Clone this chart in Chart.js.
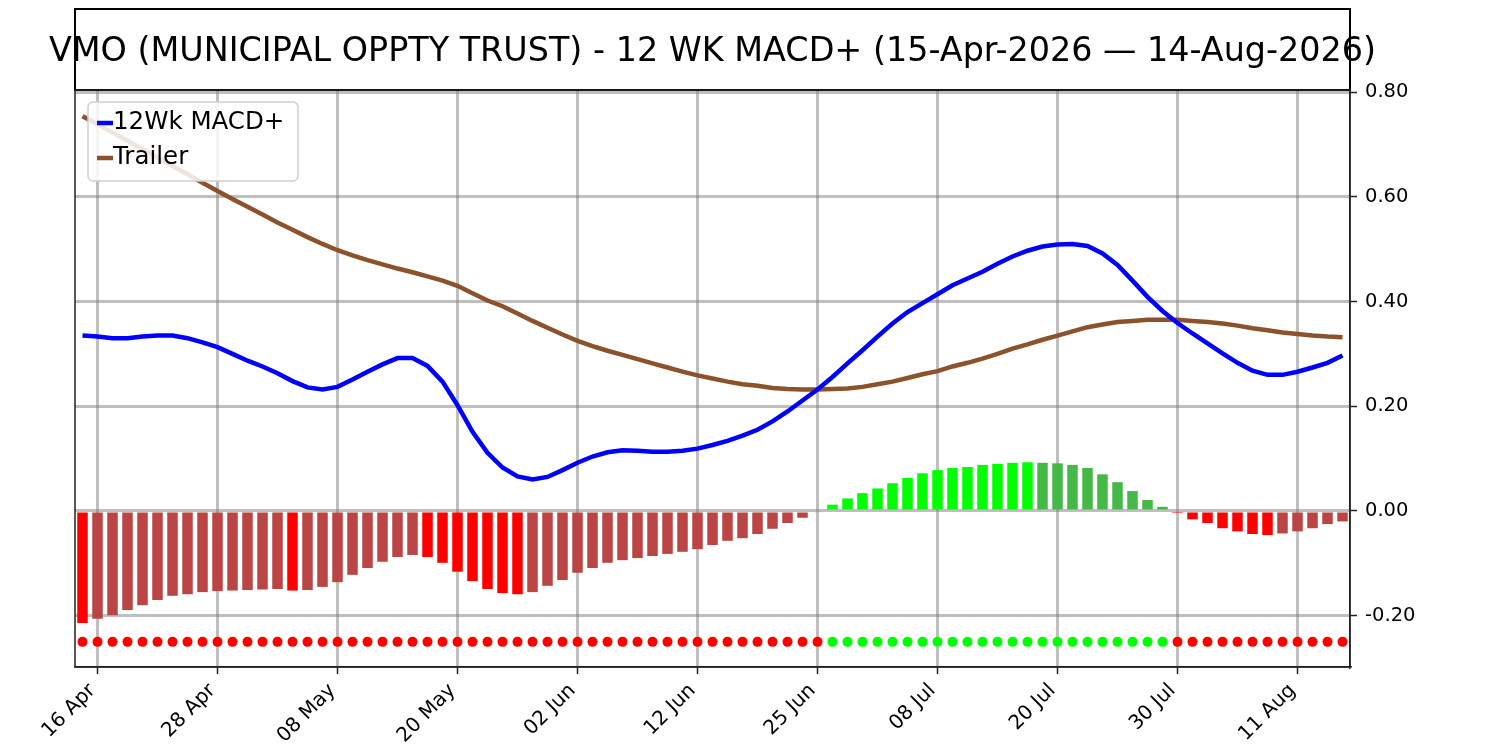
<!DOCTYPE html>
<html>
<head>
<meta charset="utf-8">
<title>VMO 12 WK MACD+</title>
<script src="https://cdn.jsdelivr.net/npm/chart.js@4.4.1/dist/chart.umd.min.js"></script>
<style>
    body { margin: 0; background: #fff; }
    canvas { display: block; }
</style>
</head>
<body>
<canvas id="macdChart" width="1500" height="750"></canvas>
<script>
// Trading days shown on the x axis
const dates = [
    '15 Apr', '16 Apr', '17 Apr', '20 Apr', '21 Apr', '22 Apr', '23 Apr', '24 Apr', '27 Apr', '28 Apr', '29 Apr', '30 Apr',
    '01 May', '04 May', '05 May', '06 May', '07 May', '08 May', '11 May', '12 May', '13 May', '14 May', '15 May', '18 May',
    '19 May', '20 May', '21 May', '22 May', '26 May', '27 May', '28 May', '29 May',
    '01 Jun', '02 Jun', '03 Jun', '04 Jun', '05 Jun', '08 Jun', '09 Jun', '10 Jun', '11 Jun', '12 Jun', '15 Jun', '16 Jun',
    '17 Jun', '18 Jun', '22 Jun', '23 Jun', '24 Jun', '25 Jun', '26 Jun', '29 Jun', '30 Jun',
    '01 Jul', '02 Jul', '06 Jul', '07 Jul', '08 Jul', '09 Jul', '10 Jul', '13 Jul', '14 Jul', '15 Jul', '16 Jul', '17 Jul',
    '20 Jul', '21 Jul', '22 Jul', '23 Jul', '24 Jul', '27 Jul', '28 Jul', '29 Jul', '30 Jul', '31 Jul',
    '03 Aug', '04 Aug', '05 Aug', '06 Aug', '07 Aug', '10 Aug', '11 Aug', '12 Aug', '13 Aug', '14 Aug'
];

const macdPlus = [
    0.335, 0.333, 0.330, 0.330, 0.333, 0.335, 0.335, 0.330, 0.322, 0.313, 0.300, 0.287,
    0.276, 0.263, 0.248, 0.236, 0.232, 0.237, 0.251, 0.266, 0.280, 0.292, 0.292, 0.277,
    0.247, 0.202, 0.151, 0.111, 0.083, 0.066, 0.060, 0.065,
    0.078, 0.092, 0.104, 0.112, 0.116, 0.115, 0.113, 0.113, 0.115, 0.119, 0.126, 0.134,
    0.144, 0.155, 0.171, 0.190, 0.211, 0.232, 0.256, 0.282, 0.307,
    0.333, 0.358, 0.380, 0.397, 0.414, 0.431, 0.444, 0.457, 0.472, 0.486, 0.497, 0.505,
    0.509, 0.510, 0.506, 0.492, 0.470, 0.440, 0.409, 0.382, 0.359, 0.339,
    0.320, 0.301, 0.283, 0.268, 0.260, 0.260, 0.266, 0.274, 0.283, 0.297
];

const trailer = [
    0.754, 0.739, 0.723, 0.707, 0.691, 0.675, 0.659, 0.643, 0.627, 0.611, 0.596, 0.581,
    0.566, 0.551, 0.537, 0.523, 0.510, 0.498, 0.488, 0.479, 0.471, 0.463, 0.456, 0.448,
    0.440, 0.430, 0.416, 0.402, 0.391, 0.377, 0.363, 0.350,
    0.337, 0.325, 0.315, 0.306, 0.298, 0.290, 0.282, 0.274, 0.266, 0.259, 0.253, 0.247,
    0.242, 0.239, 0.235, 0.233, 0.232, 0.232, 0.233, 0.234, 0.237,
    0.242, 0.247, 0.254, 0.261, 0.267, 0.276, 0.283, 0.291, 0.300, 0.310, 0.318, 0.327,
    0.335, 0.343, 0.351, 0.356, 0.361, 0.363, 0.365, 0.365, 0.365, 0.363,
    0.361, 0.358, 0.354, 0.349, 0.345, 0.341, 0.338, 0.335, 0.333, 0.332
];

const histogram = [
    -0.214, -0.206, -0.199, -0.189, -0.180, -0.170, -0.162, -0.159, -0.155, -0.153, -0.152, -0.151,
    -0.150, -0.149, -0.152, -0.151, -0.145, -0.136, -0.122, -0.109, -0.097, -0.088, -0.084, -0.088,
    -0.099, -0.116, -0.134, -0.149, -0.157, -0.159, -0.155, -0.143,
    -0.132, -0.118, -0.109, -0.099, -0.094, -0.090, -0.086, -0.082, -0.078, -0.073, -0.065, -0.057,
    -0.052, -0.044, -0.034, -0.023, -0.013, -0.003, 0.012, 0.024, 0.034,
    0.043, 0.053, 0.063, 0.072, 0.078, 0.082, 0.084, 0.088, 0.090, 0.092, 0.093, 0.092,
    0.091, 0.088, 0.082, 0.070, 0.055, 0.038, 0.021, 0.008, -0.004, -0.016,
    -0.023, -0.033, -0.039, -0.044, -0.046, -0.043, -0.039, -0.033, -0.025, -0.020
];

const xTickLabels = ['16 Apr', '28 Apr', '08 May', '20 May', '02 Jun', '12 Jun', '25 Jun', '08 Jul', '20 Jul', '30 Jul', '11 Aug'];
const yTicks = [-0.2, 0.0, 0.2, 0.4, 0.6, 0.8];
const signalLevel = -0.25;

const titleText = 'VMO (MUNICIPAL OPPTY TRUST) - 12 WK MACD+ (15-Apr-2026 \u2014 14-Aug-2026)';
const FONT = "'DejaVu Sans', sans-serif";

// bar colours: bright when moving away from zero, muted when coming back
const barColors = histogram.map((v, i) => {
    const prev = i > 0 ? histogram[i - 1] : null;
    if (v < 0) return (prev !== null && v > prev) ? '#bb4545' : '#ff0000';
    return (prev !== null && v < prev) ? '#45b945' : '#00ff00';
});
const dotColors = histogram.map(v => v > 0 ? '#00ff00' : '#ff0000');

// Title box + frame + legend drawn on top
const decorPlugin = {
    id: 'decor',
    afterDraw(chart) {
        const ctx = chart.ctx;
        const area = chart.chartArea;
        ctx.save();

        // title box
        ctx.strokeStyle = '#000';
        ctx.lineWidth = 2;
        ctx.strokeRect(area.left, 9, area.right - area.left, area.top - 9);
        ctx.fillStyle = '#000';
        ctx.font = '33.4px ' + FONT;
        ctx.textAlign = 'center';
        ctx.textBaseline = 'alphabetic';
        ctx.fillText(titleText, (area.left + area.right) / 2, 61);

        // plot frame
        ctx.strokeStyle = '#222';
        ctx.lineWidth = 1.5;
        ctx.strokeRect(area.left, area.top, area.right - area.left, area.bottom - area.top);

        // legend
        const lx = area.left + 13, ly = area.top + 12, lw = 210, lh = 79;
        ctx.beginPath();
        ctx.roundRect(lx, ly, lw, lh, 5);
        ctx.fillStyle = 'rgba(255,255,255,0.85)';
        ctx.fill();
        ctx.strokeStyle = '#d0d0d0';
        ctx.lineWidth = 1.5;
        ctx.stroke();

        const items = [chart.data.datasets[1], chart.data.datasets[2]];
        ctx.font = '24.5px ' + FONT;
        ctx.textAlign = 'left';
        ctx.textBaseline = 'middle';
        items.forEach((ds, k) => {
            const y = ly + 21 + k * 35;
            ctx.strokeStyle = ds.borderColor;
            ctx.lineWidth = 4.5;
            ctx.beginPath();
            ctx.moveTo(lx + 9, y);
            ctx.lineTo(lx + 25, y);
            ctx.stroke();
            ctx.fillStyle = '#000';
            ctx.fillText(ds.label, lx + 25, y);
        });

        ctx.restore();
    }
};

const ctx = document.getElementById('macdChart').getContext('2d');
new Chart(ctx, {
    type: 'bar',
    data: {
        labels: dates,
        datasets: [
            {
                type: 'bar',
                label: 'Histogram',
                data: histogram,
                backgroundColor: barColors,
                borderWidth: 0,
                barPercentage: 0.7,
                categoryPercentage: 1.0,
                order: 3
            },
            {
                type: 'line',
                label: '12Wk MACD+',
                data: macdPlus,
                borderColor: '#0000ff',
                borderWidth: 4.5,
                pointRadius: 0,
                tension: 0,
                order: 1
            },
            {
                type: 'line',
                label: 'Trailer',
                data: trailer,
                borderColor: '#8b522b',
                borderWidth: 4.5,
                pointRadius: 0,
                tension: 0,
                order: 2
            },
            {
                type: 'line',
                label: 'Signal',
                data: histogram.map(() => signalLevel),
                showLine: false,
                pointRadius: 5,
                pointBorderWidth: 0,
                pointBackgroundColor: dotColors,
                order: 0
            }
        ]
    },
    options: {
        responsive: false,
        animation: false,
        devicePixelRatio: 1,
        layout: { padding: { top: 90, left: 75, right: 0, bottom: 0 } },
        plugins: {
            legend: { display: false },
            title: { display: false },
            tooltip: { enabled: false }
        },
        scales: {
            x: {
                type: 'category',
                offset: true,
                z: 1,
                grid: {
                    offset: false,
                    color: 'rgba(128,128,128,0.5)',
                    lineWidth: 3,
                    tickColor: '#222',
                    tickLength: 7,
                    tickWidth: 1.5
                },
                border: { display: true, color: '#222', width: 1.5 },
                ticks: {
                    autoSkip: false,
                    maxRotation: 45,
                    minRotation: 45,
                    padding: 5,
                    labelOffset: -5,
                    color: '#000',
                    font: { family: FONT, size: 20 }
                },
                afterBuildTicks(scale) {
                    scale.ticks = xTickLabels.map(l => ({ value: dates.indexOf(l) }));
                },
                afterFit(scale) { scale.height = 83; }
            },
            y: {
                position: 'right',
                min: -0.298,
                max: 0.804,
                z: 1,
                grid: {
                    color: 'rgba(128,128,128,0.5)',
                    lineWidth: 3,
                    tickColor: '#222',
                    tickLength: 7,
                    tickWidth: 1.5
                },
                border: { display: true, color: '#222', width: 1.5 },
                ticks: {
                    padding: 8,
                    color: '#000',
                    font: { family: FONT, size: 19.5 },
                    callback: v => v.toFixed(2)
                },
                afterBuildTicks(scale) {
                    scale.ticks = yTicks.map(v => ({ value: v }));
                },
                afterFit(scale) { scale.width = 150; }
            }
        }
    },
    plugins: [decorPlugin]
});
</script>
</body>
</html>
